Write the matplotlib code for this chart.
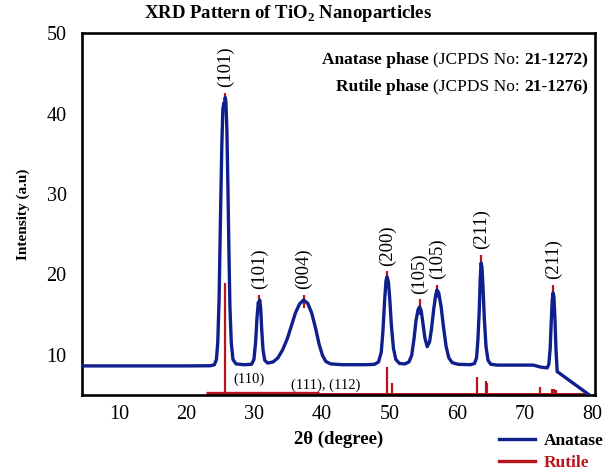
#!/usr/bin/env python3
from __future__ import annotations

import matplotlib

matplotlib.use("Agg")
import matplotlib.pyplot as plt
from matplotlib.lines import Line2D


BLUE = "#0f1f8c"
RED = "#b8141c"

# anatase pattern (2theta, intensity)
ANATASE_X = [
    4.5, 12.0, 20.0, 23.5, 24.1, 24.4, 24.6, 24.8, 25.0, 25.2, 25.35, 25.5,
    25.6, 25.7, 25.8, 25.95, 26.1, 26.25, 26.4, 26.6, 26.85, 27.3, 28.5, 29.6,
    29.95, 30.2, 30.4, 30.6, 30.7, 30.8, 30.95, 31.1, 31.3, 31.55, 32.0, 32.8,
    33.5, 34.2, 34.9, 35.5, 36.1, 36.7, 37.3, 37.9, 38.5, 39.1, 39.6, 40.1,
    40.6, 41.3, 43.0, 46.5, 47.8, 48.4, 48.8, 49.05, 49.3, 49.5, 49.65, 49.85,
    50.05, 50.3, 50.6, 50.95, 51.5, 52.3, 52.9, 53.3, 53.65, 53.95, 54.25,
    54.47, 54.7, 54.95, 55.25, 55.6, 55.95, 56.25, 56.55, 56.85, 57.05, 57.3,
    57.65, 58.0, 58.4, 58.8, 59.3, 60.2, 62.0, 62.6, 62.9, 63.1, 63.3, 63.45,
    63.57, 63.7, 63.85, 64.05, 64.3, 64.6, 65.0, 66.0, 71.3, 72.4, 73.35,
    73.6, 73.8, 73.95, 74.1, 74.23, 74.35, 74.5, 74.65, 74.83, 79.57,
]
ANATASE_Y = [
    8.6, 8.6, 8.6, 8.62, 8.75, 9.4, 11.5, 17.0, 27.0, 36.0, 40.5, 41.3,
    41.0, 42.0, 41.5, 38.0, 31.0, 23.0, 16.0, 11.5, 9.4, 8.85, 8.75, 8.8,
    9.4, 11.5, 14.5, 16.5, 16.2, 16.8, 15.8, 13.2, 10.6, 9.3, 8.95, 9.1,
    9.6, 10.6, 12.0, 13.6, 15.2, 16.3, 16.8, 16.4, 15.2, 13.2, 11.3, 9.9,
    9.15, 8.85, 8.75, 8.75, 8.8, 9.1, 10.3, 13.0, 16.8, 19.2, 19.7, 19.1,
    17.0, 13.6, 10.8, 9.4, 8.9, 8.85, 9.1, 9.9, 12.0, 14.3, 15.6,
    15.95, 15.5, 14.0, 12.1, 11.0, 11.6, 13.3, 15.6, 17.4, 18.05, 17.7,
    16.0, 13.5, 11.0, 9.6, 9.0, 8.8, 8.75, 8.9, 9.6, 11.8, 15.5, 19.5,
    21.4, 20.9, 18.5, 14.5, 11.0, 9.3, 8.8, 8.7, 8.7, 8.45, 8.35,
    8.8, 10.8, 14.0, 16.8, 17.7, 17.2, 14.5, 10.8, 7.9, 5.0,
]

# reference marks above the anatase peaks and their labels
PEAK_POS = [25.7, 30.77, 37.3, 49.65, 54.47, 57.05, 63.57, 74.23]
PEAK_TOP = [42.0, 16.8, 16.8, 19.7, 15.95, 18.05, 21.4, 17.7]
PEAK_REF = [42.55, 17.45, 17.45, 20.4, 16.9, 18.7, 22.4, 18.7]
PEAK_HKL = ["(101)", "(101)", "(004)", "(200)", "(105)", "(105)", "(211)", "(211)"]

# rutile reference lines
RUTILE_POS = [25.7, 49.7, 50.35, 63.0, 64.35, 64.5, 72.35, 74.0, 74.3, 74.7]
RUTILE_TOP = [18.9, 8.5, 6.5, 7.25, 6.75, 6.5, 6.0, 5.75, 5.7, 5.6]
RUTILE_HKL = ["(110)", "(111), (112)"]
RUTILE_HKL_AT = [(29.2, 7.0), (40.5, 6.25)]

XTICKS = [10, 20, 30, 40, 50, 60, 70, 80]
YTICKS = [10, 20, 30, 40, 50]

FONT = "Liberation Serif"


def main() -> int:
    plt.rcParams["font.family"] = [FONT, "DejaVu Serif"]
    plt.rcParams["mathtext.fontset"] = "custom"
    plt.rcParams["mathtext.rm"] = FONT
    plt.rcParams["mathtext.bf"] = f"{FONT}:bold"

    fig = plt.figure(figsize=(6.07, 4.74), dpi=100)
    ax = fig.add_axes([0.135, 0.167, 0.846, 0.763])

    # rutile: thick stub along the bottom plus stems
    ax.plot([22.9, 39.6], [5.25, 5.25], color=RED, lw=2.4, zorder=2,
            solid_capstyle="butt")
    ax.plot([39.6, 79.0], [5.15, 5.15], color=RED, lw=1.4, zorder=2)
    ax.vlines(RUTILE_POS, 5.0, RUTILE_TOP, color=RED, lw=1.6, zorder=2)

    # small red reference marks on the anatase peaks
    ax.vlines(PEAK_POS, [t - 1.0 for t in PEAK_TOP], PEAK_REF, color=RED,
              lw=1.6, zorder=2)
    ax.plot(ANATASE_X, ANATASE_Y, color=BLUE, lw=2.4, zorder=3,
            solid_joinstyle="round")

    for x, top, hkl in zip(PEAK_POS, PEAK_REF, PEAK_HKL):
        ax.annotate(hkl, xy=(x, top), xytext=(0, 4), textcoords="offset points",
                    rotation=90, ha="center", va="bottom", fontsize=13.5)
    for hkl, (x, y) in zip(RUTILE_HKL, RUTILE_HKL_AT):
        ax.text(x, y, hkl, ha="center", va="center", fontsize=10.5)

    # phase notes, upper right
    for y, phase, card in [(0.925, "Anatase phase", "21-1272)"),
                           (0.851, "Rutile phase", "21-1276)")]:
        t1 = ax.text(0.985, y, card, transform=ax.transAxes, ha="right",
                     va="center", fontsize=12.5, fontweight="bold")
        t2 = ax.annotate("(JCPDS No:", xy=(0, 0), xycoords=t1,
                         xytext=(-3, 0), textcoords="offset points",
                         ha="right", va="bottom", fontsize=12.5)
        ax.annotate(phase, xy=(0, 0), xycoords=t2, xytext=(-3, 0),
                    textcoords="offset points", ha="right", va="bottom",
                    fontsize=12.5, fontweight="bold")

    ax.set_xlim(4.5, 80.5)
    ax.set_ylim(5, 50)
    ax.set_xticks(XTICKS)
    ax.set_yticks(YTICKS)
    ax.tick_params(axis="both", length=0, labelsize=14.5)
    ax.tick_params(axis="y", pad=11)
    ax.tick_params(axis="x", pad=7)
    for spine in ax.spines.values():
        spine.set_linewidth(1.9)
        spine.set_color("black")

    ax.set_xlabel("2θ (degree)", fontsize=13.5, fontweight="bold", labelpad=5)
    ax.set_ylabel("Intensity (a.u)", fontsize=11, fontweight="bold", labelpad=12)
    fig.text(288 / 607, 1 - 14 / 474, r"XRD Pattern of TiO$_\mathbf{2}$ Nanoparticles",
             ha="center", va="center", fontsize=13.5, fontweight="bold")

    handles = [Line2D([], [], color=BLUE, lw=2.4), Line2D([], [], color=RED, lw=2.4)]
    leg = fig.legend(handles, ["Anatase", "Rutile"], loc="center left",
                     bbox_to_anchor=(0.822, 0.047), frameon=False,
                     handlelength=2.1, handletextpad=0.5, labelspacing=0.35,
                     borderpad=0, borderaxespad=0,
                     prop={"family": FONT, "weight": "bold", "size": 12.5})
    leg.get_texts()[1].set_color(RED)

    fig.savefig("out.png", dpi=100)
    plt.close(fig)
    return 0


if __name__ == "__main__":
    raise SystemExit(main())
